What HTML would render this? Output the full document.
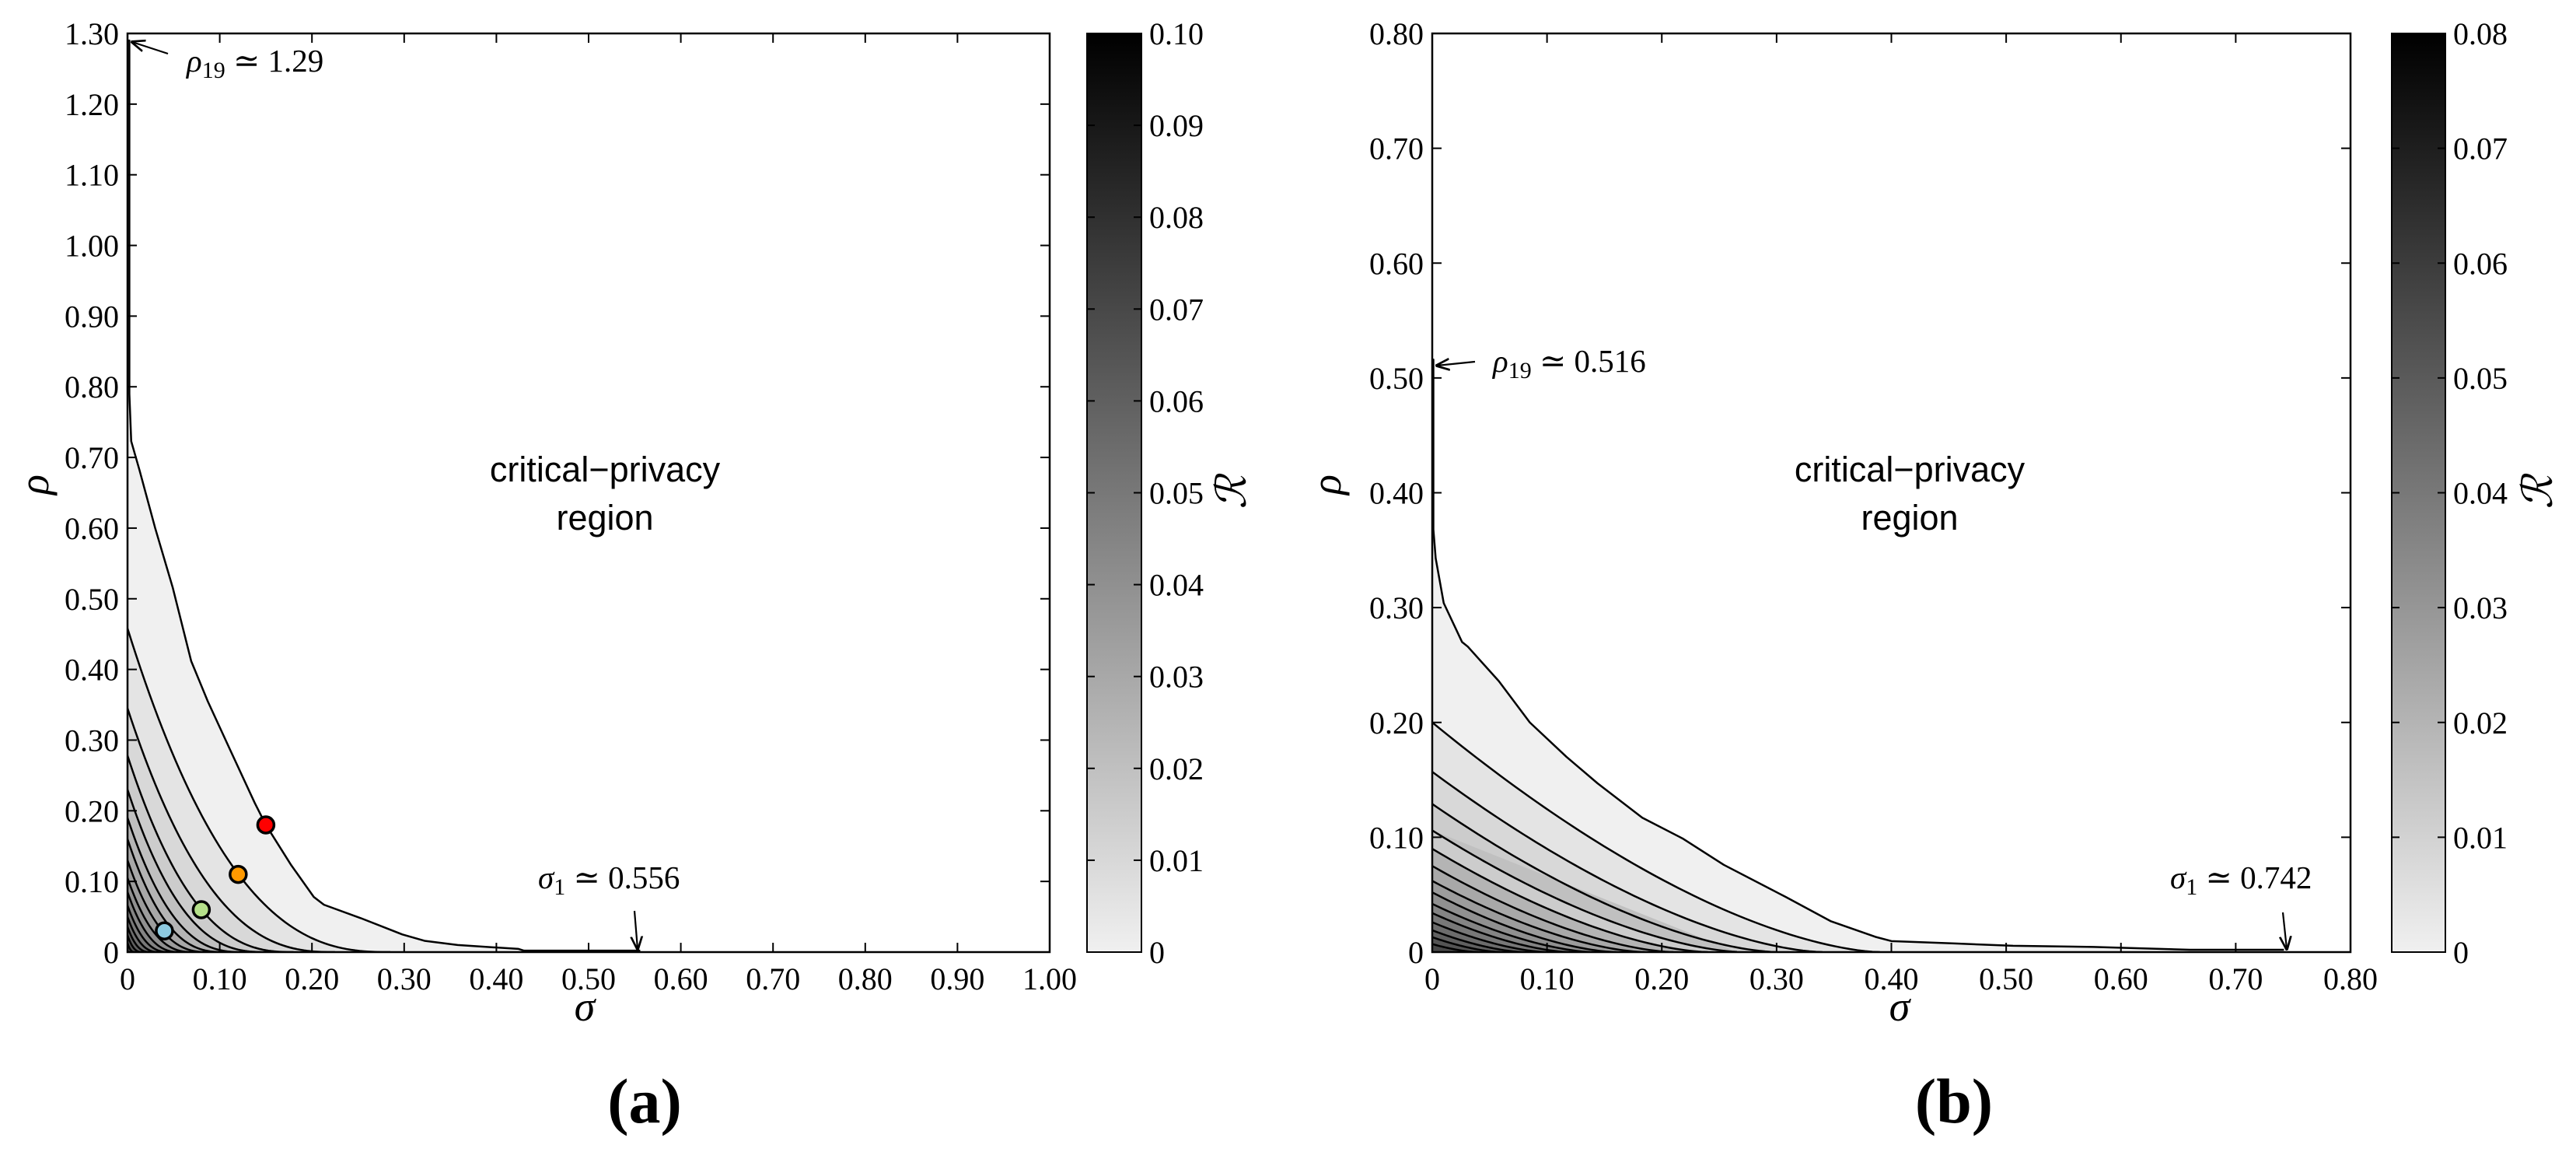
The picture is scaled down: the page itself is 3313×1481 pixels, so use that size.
<!DOCTYPE html>
<html><head><meta charset="utf-8">
<style>
html,body{margin:0;padding:0;background:#fff;}
svg{display:block;}
.tick{font-family:"Liberation Serif",serif;font-size:40px;fill:#000;}
.ann{font-family:"Liberation Serif","DejaVu Serif",serif;font-size:41px;fill:#000;}
.region{font-family:"Liberation Sans",sans-serif;font-size:45px;fill:#000;}
.axl{font-family:"Liberation Serif",serif;font-style:italic;font-size:54px;fill:#000;}
.cap{font-family:"Liberation Serif",serif;font-weight:bold;font-size:82px;fill:#000;}
</style></head>
<body>
<svg id="fig" width="3313" height="1481" viewBox="0 0 3313 1481" xmlns="http://www.w3.org/2000/svg"></svg>
<script>
// ---------- Panel (a) data ----------
const aXTicks = [0,0.1,0.2,0.3,0.4,0.5,0.6,0.7,0.8,0.9,1.0];
const aYTicks = [0,0.1,0.2,0.3,0.4,0.5,0.6,0.7,0.8,0.9,1.0,1.1,1.2,1.3];
const aCbTicks = [0,0.01,0.02,0.03,0.04,0.05,0.06,0.07,0.08,0.09,0.10];
const aOuterSigma = [0.002,0.002,0.004,0.013,0.030,0.049,0.069,0.087,0.111,0.138,0.150,0.177,0.202,0.213,0.253,0.298,0.322,0.358,0.424,0.430,0.556];
const aOuterRho   = [1.29,0.79,0.723,0.682,0.600,0.516,0.412,0.355,0.287,0.211,0.180,0.124,0.078,0.067,0.048,0.025,0.016,0.010,0.0045,0.002,0.002];
const aInnerRho0  = [0.458,0.345,0.278,0.230,0.190,0.160,0.130,0.105,0.085,0.066,0.050,0.036,0.024,0.013];
const aInnerSig0  = [0.285,0.225,0.180,0.150,0.125,0.105,0.088,0.072,0.058,0.046,0.035,0.025,0.016,0.008];
const aDotSigma = [0.15,0.12,0.08,0.04];
const aDotRho   = [0.18,0.11,0.06,0.03];
const aDotColor = ["#ff0000","#ff9900","#b5e08a","#8ecae0"];

// ---------- Panel (b) data ----------
const bXTicks = [0,0.1,0.2,0.3,0.4,0.5,0.6,0.7,0.8];
const bYTicks = [0,0.1,0.2,0.3,0.4,0.5,0.6,0.7,0.8];
const bCbTicks = [0,0.01,0.02,0.03,0.04,0.05,0.06,0.07,0.08];
const bOuterSigma = [0.001,0.001,0.003,0.010,0.026,0.031,0.058,0.085,0.117,0.144,0.183,0.218,0.254,0.308,0.347,0.386,0.400,0.455,0.506,0.576,0.660,0.742];
const bOuterRho   = [0.516,0.368,0.343,0.304,0.270,0.266,0.236,0.200,0.170,0.147,0.117,0.099,0.076,0.048,0.027,0.0133,0.0096,0.0075,0.0055,0.0045,0.002,0.002];
const bInnerRho0  = [0.200,0.157,0.129,0.106,0.090,0.075,0.062,0.052,0.042,0.034,0.026,0.019,0.013,0.007];
const bInnerSig0  = [0.390,0.340,0.300,0.270,0.240,0.210,0.185,0.160,0.140,0.120,0.100,0.080,0.060,0.040];

const NS="http://www.w3.org/2000/svg";
const svg=document.getElementById('fig');
function el(tag,attrs,parent){const e=document.createElementNS(NS,tag);for(const k in attrs)e.setAttribute(k,attrs[k]);(parent||svg).appendChild(e);return e;}
function gray(v,max){const g=Math.round(240*(1-v/max));return `rgb(${g},${g},${g})`;}
function fmt(v){return v===0?"0":v.toFixed(2);}

function panel(cfg){
  const {L,R,T,B,xmax,ymax,cbL,cbR,cbMax,step,p,name}=cfg;
  const sx=s=>L+(s/xmax)*(R-L);
  const sy=r=>B-(r/ymax)*(B-T);
  const g=el('g',{});
  
  
  const cid='clip-'+name;
  const cp=el('clipPath',{id:cid},g);el('rect',{x:L,y:T,width:R-L,height:B-T},cp);
  const plot=el('g',{'clip-path':`url(#${cid})`},g);
  let d=`M${sx(0)},${sy(cfg.outerRho[0])}`;
  for(let i=0;i<cfg.outerSigma.length;i++)d+=` L${sx(cfg.outerSigma[i])},${sy(cfg.outerRho[i])}`;
  const outerFill=el('path',{d:d+` L${sx(cfg.outerSigma[cfg.outerSigma.length-1])},${sy(0)} L${sx(0)},${sy(0)} Z`,fill:gray(0,cbMax),stroke:'none'},plot);
  
  
  const lines=[];
  for(let k=0;k<cfg.innerRho0.length;k++){
    const a=cfg.innerRho0[k],b=cfg.innerSig0[k];
    let pd='';
    for(let j=0;j<=60;j++){const s=b*j/60;const r=a*Math.pow(1-s/b,p);pd+=(j?' L':'M')+sx(s)+','+sy(r);}
    const f=el('path',{d:pd+` L${sx(0)},${sy(0)} Z`,fill:gray((k+1)*step,cbMax),stroke:'none'},plot);
    
    
    lines.push(pd);
  }
  lines.forEach(pd=>{const c=el('path',{d:pd,fill:'none',stroke:'#000','stroke-width':2.5},plot);
    
    });
  const ol=el('path',{d:d,fill:'none',stroke:'#000','stroke-width':2.5,'stroke-linejoin':'round'},plot);
  
  
  (cfg.dotSigma||[]).forEach((s,i)=>{const c=el('circle',{cx:sx(s),cy:sy(cfg.dotRho[i]),r:10.5,fill:cfg.dotColor[i],stroke:'#000','stroke-width':3.5},g);
    
    });
  const fr=el('rect',{x:L,y:T,width:R-L,height:B-T,fill:'none',stroke:'#000','stroke-width':2.5},g);
  
  
  cfg.xTicks.forEach(v=>{const x=sx(v);
    el('line',{x1:x,y1:B,x2:x,y2:B-12,stroke:'#000','stroke-width':2},g);
    el('line',{x1:x,y1:T,x2:x,y2:T+12,stroke:'#000','stroke-width':2},g);
    const t=el('text',{x:x,y:1272,'text-anchor':'middle',class:'tick'},g);t.textContent=fmt(v);
    
    });
  cfg.yTicks.forEach(v=>{const y=sy(v);
    el('line',{x1:L,y1:y,x2:L+12,y2:y,stroke:'#000','stroke-width':2},g);
    el('line',{x1:R,y1:y,x2:R-12,y2:y,stroke:'#000','stroke-width':2},g);
    const t=el('text',{x:L-11,y:y+14,'text-anchor':'end',class:'tick'},g);t.textContent=fmt(v);
    
    });
  const gid='grad-'+name;
  const lg=el('linearGradient',{id:gid,x1:0,y1:1,x2:0,y2:0},g);
  el('stop',{offset:0,'stop-color':gray(0,cbMax)},lg);el('stop',{offset:1,'stop-color':'#000'},lg);
  const cb=el('rect',{x:cbL,y:T,width:cbR-cbL,height:B-T,fill:`url(#${gid})`,stroke:'#000','stroke-width':2},g);
  
  
  cfg.cbTicks.forEach(v=>{const y=B-(v/cbMax)*(B-T);
    el('line',{x1:cbL,y1:y,x2:cbL+10,y2:y,stroke:'#000','stroke-width':2},g);
    el('line',{x1:cbR,y1:y,x2:cbR-10,y2:y,stroke:'#000','stroke-width':2},g);
    const t=el('text',{x:cbR+10,y:y+14,class:'tick'},g);t.textContent=fmt(v);
    
    });
  return {sx,sy,g};
}

panel({name:'a',L:164,R:1350,T:43,B:1224,xmax:1.0,ymax:1.3,cbL:1398,cbR:1468,cbMax:0.10,step:0.005,p:2.6,
  xTicks:aXTicks,yTicks:aYTicks,cbTicks:aCbTicks,outerSigma:aOuterSigma,outerRho:aOuterRho,innerRho0:aInnerRho0,innerSig0:aInnerSig0,
  dotSigma:aDotSigma,dotRho:aDotRho,dotColor:aDotColor});
panel({name:'b',L:1842,R:3023,T:43,B:1224,xmax:0.8,ymax:0.8,cbL:3076,cbR:3145,cbMax:0.08,step:0.004,p:1.6,
  xTicks:bXTicks,yTicks:bYTicks,cbTicks:bCbTicks,outerSigma:bOuterSigma,outerRho:bOuterRho,innerRho0:bInnerRho0,innerSig0:bInnerSig0});

const defs=el('defs',{});
const mk=el('marker',{id:'arr',viewBox:'0 0 10 10',refX:9,refY:5,markerWidth:18,markerHeight:18,orient:'auto-start-reverse',markerUnits:'userSpaceOnUse'},defs);
el('path',{d:'M0,1 L10,5 L0,9',fill:'none',stroke:'#000','stroke-width':1.5},mk);

function txt(x,y,html,cls,name,anchor){const t=el('text',{x:x,y:y,class:cls,'text-anchor':anchor||'start'});t.innerHTML=html;
  
  return t;}
function arrow(x1,y1,x2,y2,name){const l=el('line',{x1,y1,x2,y2,stroke:'#000','stroke-width':2.2,'marker-end':'url(#arr)'});
  
  }

arrow(216,69,170,54,'rho19-arrow-a');
txt(240,92,'<tspan font-style="italic">ρ</tspan><tspan font-size="30" dy="8">19</tspan><tspan dy="-8"> ≃ 1.29</tspan>','ann','rho19-annotation-a');
txt(692,1142,'<tspan font-style="italic">σ</tspan><tspan font-size="30" dy="8">1</tspan><tspan dy="-8"> ≃ 0.556</tspan>','ann','sigma1-annotation-a');
arrow(816,1171,820,1220,'sigma1-arrow-a');
txt(778,619,'critical−privacy','region','region-label-a','middle');
txt(778,681,'region','region','region-label-a2','middle');
txt(752,1312,'σ','axl','x-axis-title-a','middle');
const ra=txt(0,0,'ρ','axl','y-axis-title-a','middle');ra.setAttribute('transform','translate(62,623) rotate(-90)');
const Ra=txt(0,0,'ℛ','axl','colorbar-title-a','middle');Ra.setAttribute('transform','translate(1602,633) rotate(-90)');Ra.setAttribute('font-style','normal');
txt(829,1443,'(<tspan>a</tspan>)','cap','caption-a','middle');

arrow(1897,465,1848,470,'rho19-arrow-b');
txt(1920,478,'<tspan font-style="italic">ρ</tspan><tspan font-size="30" dy="8">19</tspan><tspan dy="-8"> ≃ 0.516</tspan>','ann','rho19-annotation-b');
txt(2791,1142,'<tspan font-style="italic">σ</tspan><tspan font-size="30" dy="8">1</tspan><tspan dy="-8"> ≃ 0.742</tspan>','ann','sigma1-annotation-b');
arrow(2936,1173,2941,1220,'sigma1-arrow-b');
txt(2456,619,'critical−privacy','region','region-label-b','middle');
txt(2456,681,'region','region','region-label-b2','middle');
txt(2443,1312,'σ','axl','x-axis-title-b','middle');
const rb=txt(0,0,'ρ','axl','y-axis-title-b','middle');rb.setAttribute('transform','translate(1724,623) rotate(-90)');
const Rb=txt(0,0,'ℛ','axl','colorbar-title-b','middle');Rb.setAttribute('transform','translate(3282,633) rotate(-90)');Rb.setAttribute('font-style','normal');
txt(2513,1443,'(<tspan>b</tspan>)','cap','caption-b','middle');
</script>
</body></html>
